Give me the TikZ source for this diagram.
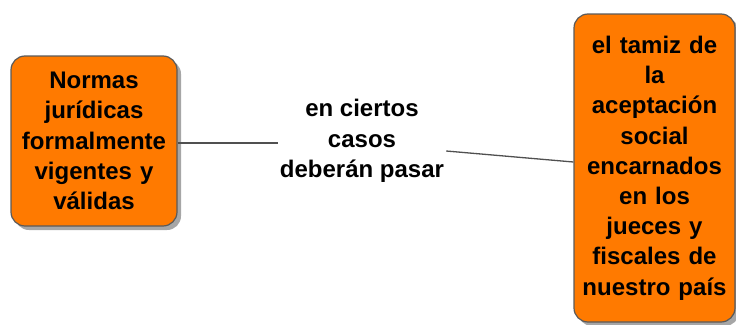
\documentclass[tikz,border=0pt]{standalone}
\usepackage{fontspec}
\setmainfont{Liberation Sans}
\usetikzlibrary{shadows}
\definecolor{boxorange}{RGB}{255,122,0}
\definecolor{boxborder}{RGB}{90,90,90}
\definecolor{linegray}{RGB}{80,80,80}
\tikzset{
  conceptbox/.style={draw=boxborder, line width=1.2pt, fill=boxorange, rounded corners=14pt,
    align=center, inner sep=0pt, font=\bfseries\fontsize{24}{30.2}\selectfont,
    drop shadow={shadow xshift=4pt, shadow yshift=-4pt, fill=black, opacity=0.35}},
  linklabel/.style={align=center, inner sep=0pt, font=\bfseries\fontsize{24}{30.6}\selectfont},
  link/.style={draw=linegray, line width=1.3pt}
}
\begin{document}
\begin{tikzpicture}[x=1pt,y=1pt]
\useasboundingbox (0,0) rectangle (736,-324);
\node[conceptbox, minimum width=166pt, minimum height=170pt, text width=160pt] (L) at (94,-141)
  {Normas\\jurídicas\\formalmente\\vigentes y\\válidas};
\node[conceptbox, minimum width=161pt, minimum height=308pt, text width=155pt] (R) at (654.5,-168)
  {el tamiz de\\la\\aceptación\\social\\encarnados\\en los\\jueces y\\fiscales de\\nuestro país};
\node[linklabel] (lab) at (362,-141) {en ciertos\\casos\\deberán pasar};
\draw[link] (L.east |- 0,-143) -- ([xshift=-2pt]lab.west |- 0,-143);
\draw[link] ([xshift=2pt]lab.east |- 0,-151) -- (R.west |- 0,-162);
\end{tikzpicture}
\end{document}
